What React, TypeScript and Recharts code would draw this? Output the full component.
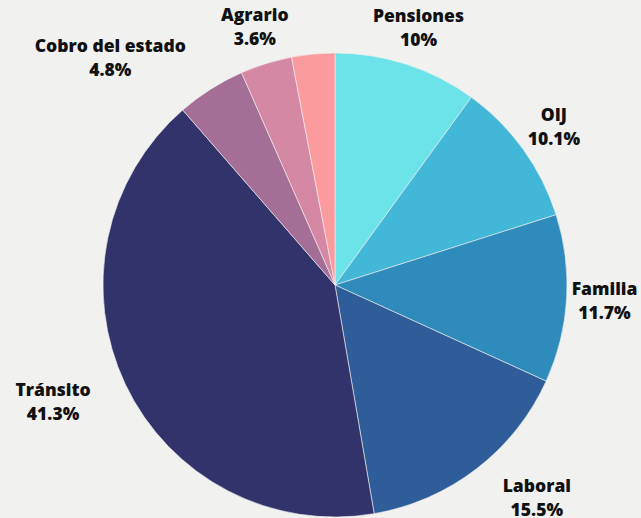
import { Cell, Pie, PieChart } from 'recharts'

const categories = ['Pensiones', 'OIJ', 'Familia', 'Laboral', 'Tránsito', 'Cobro del estado', 'Agrario', 'Otros']
const shares = [10, 10.1, 11.7, 15.5, 41.3, 4.8, 3.6, 3.0]
const shownLabels = ['10%', '10.1%', '11.7%', '15.5%', '41.3%', '4.8%', '3.6%', '']
const colors = ['#6be3e8', '#43b7d7', '#2e8bbb', '#2e5d99', '#31336a', '#a46e96', '#d488a4', '#fb9b9e']

// small label nudges to keep the text clear of each other
const nudges: Array<[number, number]> = [[0, 0], [0, 0], [0, 0], [37, -1], [-38, 1], [-80, 1], [0, 0], [0, 0]]

const data = categories.map((name, i) => ({ name, value: shares[i], pct: shownLabels[i] }))

const RAD = Math.PI / 180

function SliceLabel(props: any) {
  const { cx, cy, midAngle, index } = props
  if (!shownLabels[index]) return null
  const r = 270
  const x = cx + r * Math.cos(-midAngle * RAD) + nudges[index][0]
  const y = cy + r * Math.sin(-midAngle * RAD) + nudges[index][1]
  return (
    <text x={x} y={y} textAnchor="middle" fill="#111" fontSize={17.5} fontWeight={800} fontFamily="'Open Sans', sans-serif">
      <tspan x={x} y={y - 6}>{categories[index]}</tspan>
      <tspan x={x} y={y + 18}>{shownLabels[index]}</tspan>
    </text>
  )
}

export default function App() {
  return (
    <div style={{ position: 'fixed', left: 0, top: 0, width: 641, height: 518, background: '#f1f1f0' }}>
      <PieChart width={641} height={518} margin={{ top: 0, right: 0, bottom: 0, left: 0 }}>
        <Pie
          data={data}
          dataKey="value"
          nameKey="name"
          cx={335}
          cy={285}
          outerRadius={232}
          startAngle={90}
          endAngle={-270}
          stroke="#f1f1f0"
          strokeWidth={0.6}
          label={SliceLabel}
          labelLine={false}
          isAnimationActive={false}
        >
          {data.map((d, i) => <Cell key={d.name} fill={colors[i]} />)}
        </Pie>
      </PieChart>
    </div>
  )
}
